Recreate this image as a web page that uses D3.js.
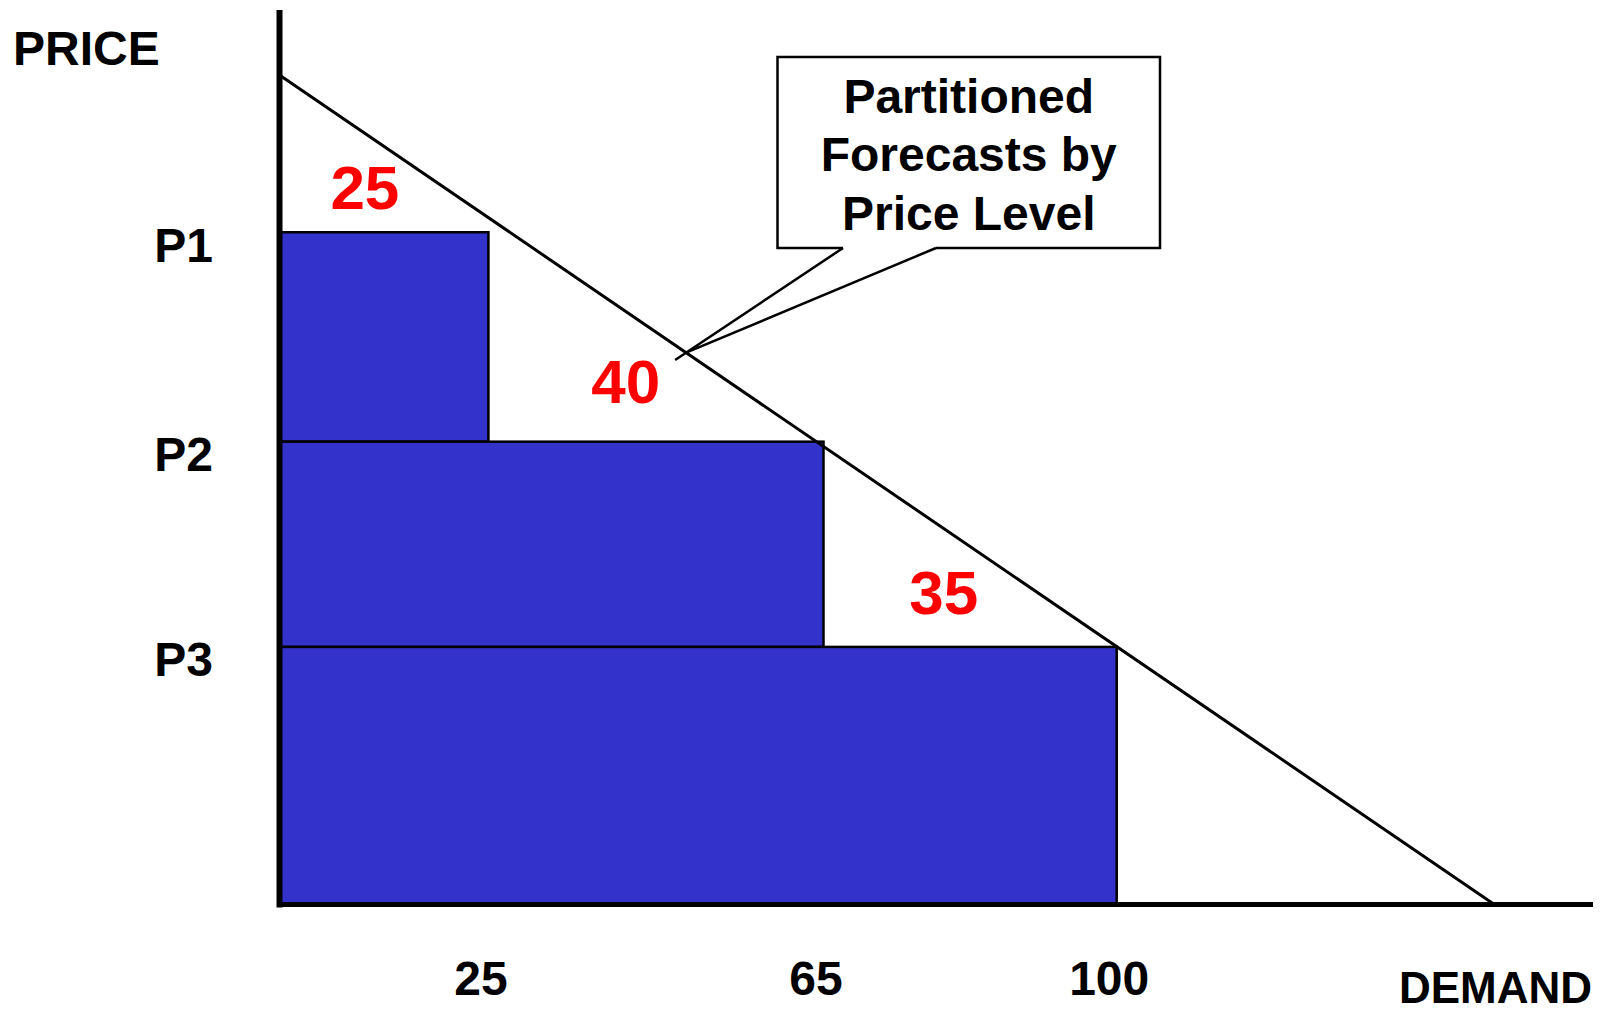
<!DOCTYPE html>
<html>
<head>
<meta charset="utf-8">
<script src="https://cdn.jsdelivr.net/npm/d3@7"></script>
<style>
  html, body { margin: 0; padding: 0; background: #fff; overflow: hidden; }
  svg { display: block; font-family: "Liberation Sans", Arial, Helvetica, sans-serif; font-weight: bold; }
</style>
</head>
<body>
<svg id="chart" width="1600" height="1014"></svg>
<script>
// Price levels (top to bottom) and the demand added at each level
const priceLabels = ["P1", "P2", "P3"];
const priceLevels = [3.24, 2.23, 1.24];
const demandIncrements = [25, 40, 35];
const demandTicks = [25, 65, 100];
// Straight demand curve: quantity q at price p
const demandCurve = [{ q: 0, p: 4.0 }, { q: 145, p: 0 }];
const calloutText = ["Partitioned", "Forecasts by", "Price Level"];

const cumulativeDemand = Array.from(d3.cumsum(demandIncrements));

const svg = d3.select("#chart");
const x = d3.scaleLinear().domain([0, 156.5]).range([279, 1590]);
const y = d3.scaleLinear().domain([0, 4.3]).range([904, 12.5]);
const priceAt = d3.scaleLinear()
  .domain(demandCurve.map(d => d.q))
  .range(demandCurve.map(d => d.p));

// One band per price level: from its price down to the next lower level
const bands = priceLevels.map((p, i) => ({
  label: priceLabels[i],
  top: p,
  bottom: i + 1 < priceLevels.length ? priceLevels[i + 1] : 0,
  start: i ? cumulativeDemand[i - 1] : 0,
  q: cumulativeDemand[i],
  inc: demandIncrements[i]
}));

svg.append("g")
  .selectAll("rect")
  .data(bands)
  .join("rect")
  .attr("x", x(0))
  .attr("y", d => y(d.top))
  .attr("width", d => x(d.q) - x(0))
  .attr("height", d => y(d.bottom) - y(d.top))
  .attr("fill", "#3333cc")
  .attr("stroke", "#000")
  .attr("stroke-width", 2.5);

// Demand curve
svg.append("path")
  .datum(demandCurve)
  .attr("d", d3.line().x(d => x(d.q)).y(d => y(d.p)))
  .attr("fill", "none")
  .attr("stroke", "#000")
  .attr("stroke-width", 3);

// Incremental demand labels in the gap between each level and the curve
svg.append("g")
  .selectAll("text")
  .data(bands)
  .join("text")
  .attr("x", d => x(d.start + 0.41 * d.inc))
  .attr("y", d => y((d.top + priceAt(d.start + 0.41 * d.inc)) / 2))
  .attr("dy", "0.42em")
  .attr("text-anchor", "middle")
  .attr("font-size", 62)
  .attr("fill", "#ff0000")
  .text(d => d.inc);

// Axes
const xAxis = svg.append("g")
  .attr("transform", `translate(0,${y(0)})`)
  .call(d3.axisBottom(x).tickValues(demandTicks).tickSize(0).tickSizeOuter(0).tickPadding(57))
  .attr("font-family", null)
  .attr("font-size", 48);
xAxis.select(".domain").attr("stroke", "#000").attr("stroke-width", 5).attr("stroke-linecap", "square");
xAxis.selectAll("text").attr("fill", "#000").attr("dx", -8);

const yAxis = svg.append("g")
  .attr("transform", `translate(${x(0)},0)`)
  .call(d3.axisLeft(y).tickValues(priceLevels).tickFormat((d, i) => priceLabels[i])
    .tickSize(0).tickSizeOuter(0).tickPadding(66))
  .attr("font-family", null)
  .attr("font-size", 48);
yAxis.select(".domain").attr("stroke", "#000").attr("stroke-width", 6).attr("stroke-linecap", "square");
yAxis.selectAll("text").attr("fill", "#000").attr("dy", "0.6em");

// Axis titles
svg.append("text")
  .attr("x", 13).attr("y", 65)
  .attr("font-size", 48)
  .text("PRICE");
svg.append("text")
  .attr("x", 1592).attr("y", 1003)
  .attr("text-anchor", "end")
  .attr("font-size", 44)
  .text("DEMAND");

// Callout box pointing at the demand curve
const box = { x0: 777.5, y0: 57, x1: 1160, y1: 248, legL: 843, legR: 936 };
const tipQ = 48.6;
const tip = [x(tipQ), y(priceAt(tipQ))];
const legEnd = [tip[0] + 0.07 * (tip[0] - box.legL), tip[1] + 0.07 * (tip[1] - box.y1)];
const callout = svg.append("g");
callout.append("path")
  .attr("d", `M${box.legL},${box.y1}H${box.x0}V${box.y0}H${box.x1}V${box.y1}H${box.legR}`)
  .attr("fill", "#fff")
  .attr("stroke", "#000")
  .attr("stroke-width", 2.5);
callout.append("path")
  .attr("d", `M${box.legR},${box.y1}L${tip[0]},${tip[1]}M${box.legL},${box.y1}L${legEnd[0]},${legEnd[1]}`)
  .attr("fill", "none")
  .attr("stroke", "#000")
  .attr("stroke-width", 2.5);
callout.selectAll("text")
  .data(calloutText)
  .join("text")
  .attr("x", (box.x0 + box.x1) / 2)
  .attr("y", (d, i) => 113 + i * 58.3)
  .attr("text-anchor", "middle")
  .attr("font-size", 48)
  .text(d => d);
</script>
</body>
</html>
